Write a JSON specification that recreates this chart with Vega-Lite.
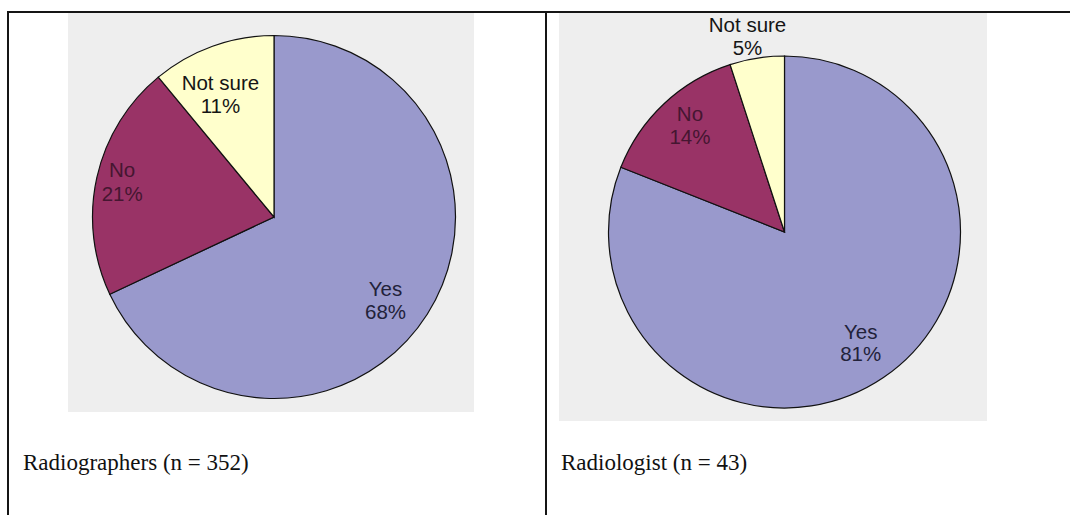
{
  "$schema": "https://vega.github.io/schema/vega-lite/v6.json",
  "padding": {"left": 7, "top": 11, "right": 0, "bottom": 0},
  "background": "#ffffff",
  "config": {"view": {"stroke": null}},
  "datasets": {
    "pies": [
      {"group": "Radiographers", "answer": "Yes", "share": 0.68, "order": 1},
      {"group": "Radiographers", "answer": "No", "share": 0.21, "order": 2},
      {"group": "Radiographers", "answer": "Not sure", "share": 0.11, "order": 3},
      {"group": "Radiologist", "answer": "Yes", "share": 0.81, "order": 1},
      {"group": "Radiologist", "answer": "No", "share": 0.14, "order": 2},
      {"group": "Radiologist", "answer": "Not sure", "share": 0.05, "order": 3}
    ],
    "blank": []
  },
  "spacing": 0,
  "bounds": "flush",
  "vconcat": [
    {
      "width": 1063, "height": 2,
      "view": {"fill": "#151515", "stroke": null},
      "data": {"name": "blank"},
      "mark": {"type": "point", "opacity": 0}
    },
    {
      "spacing": 0,
      "bounds": "flush",
      "hconcat": [
        {
          "width": 2, "height": 502,
          "view": {"fill": "#151515", "stroke": null},
          "data": {"name": "blank"},
          "mark": {"type": "point", "opacity": 0}
        },
        {
          "width": 59, "height": 399,
          "data": {"name": "blank"},
          "mark": {"type": "point", "opacity": 0}
        },
        {
          "width": 406, "height": 399,
          "view": {"fill": "#eeeeee", "stroke": null},
          "data": {"name": "pies"},
          "transform": [{"filter": "datum.group == 'Radiographers'"}],
          "title": {"text": "Radiographers (n = 352)", "orient": "bottom", "anchor": "start", "frame": "group", "dx": -45, "offset": 58, "baseline": "alphabetic", "font": "Liberation Serif", "fontSize": 23, "fontWeight": "normal", "color": "#111111"},
          "encoding": {
            "theta": {"field": "share", "type": "quantitative", "stack": true},
            "order": {"field": "order", "type": "quantitative"}
          },
          "layer": [
            {
              "mark": {"type": "arc", "radius": 181.5, "stroke": "#111111", "strokeWidth": 1.2, "xOffset": 3, "yOffset": 4.5},
              "encoding": {
                "color": {"field": "answer", "type": "nominal", "scale": {"domain": ["Yes", "No", "Not sure"], "range": ["#9999cc", "#993366", "#ffffcc"]}, "legend": null}
              }
            },
            {
              "mark": {"type": "text", "font": "Liberation Sans", "fontSize": 20.5, "baseline": "middle", "align": "center", "xOffset": 3, "yOffset": 4.5, "dy": -11.75,
                "radius": {"expr": "datum.answer == 'Yes' ? 139.8 : datum.answer == 'No' ? 155.6 : 132.8"},
                "thetaOffset": {"expr": "datum.answer == 'Yes' ? 0.082 : datum.answer == 'No' ? 0 : -0.070"}},
              "encoding": {
                "text": {"field": "answer", "type": "nominal"},
                "fill": {"field": "answer", "type": "nominal", "scale": {"domain": ["Yes", "No", "Not sure"], "range": ["#22223a", "#451631", "#151515"]}, "legend": null}
              }
            },
            {
              "mark": {"type": "text", "font": "Liberation Sans", "fontSize": 20.5, "baseline": "middle", "align": "center", "xOffset": 3, "yOffset": 4.5, "dy": 11.75,
                "radius": {"expr": "datum.answer == 'Yes' ? 139.8 : datum.answer == 'No' ? 155.6 : 132.8"},
                "thetaOffset": {"expr": "datum.answer == 'Yes' ? 0.082 : datum.answer == 'No' ? 0 : -0.070"}},
              "encoding": {
                "text": {"field": "share", "type": "quantitative", "format": ".0%"},
                "fill": {"field": "answer", "type": "nominal", "scale": {"domain": ["Yes", "No", "Not sure"], "range": ["#22223a", "#451631", "#151515"]}, "legend": null}
              }
            }
          ]
        },
        {
          "width": 71, "height": 399,
          "data": {"name": "blank"},
          "mark": {"type": "point", "opacity": 0}
        },
        {
          "width": 2, "height": 502,
          "view": {"fill": "#151515", "stroke": null},
          "data": {"name": "blank"},
          "mark": {"type": "point", "opacity": 0}
        },
        {
          "width": 12, "height": 399,
          "data": {"name": "blank"},
          "mark": {"type": "point", "opacity": 0}
        },
        {
          "width": 428, "height": 408,
          "view": {"fill": "#eeeeee", "stroke": null},
          "data": {"name": "pies"},
          "transform": [{"filter": "datum.group == 'Radiologist'"}],
          "title": {"text": "Radiologist (n = 43)", "orient": "bottom", "anchor": "start", "frame": "group", "dx": 2, "offset": 49, "baseline": "alphabetic", "font": "Liberation Serif", "fontSize": 23, "fontWeight": "normal", "color": "#111111"},
          "encoding": {
            "theta": {"field": "share", "type": "quantitative", "stack": true},
            "order": {"field": "order", "type": "quantitative"}
          },
          "layer": [
            {
              "mark": {"type": "arc", "radius": 176, "stroke": "#111111", "strokeWidth": 1.2, "xOffset": 11.5, "yOffset": 15},
              "encoding": {
                "color": {"field": "answer", "type": "nominal", "scale": {"domain": ["Yes", "No", "Not sure"], "range": ["#9999cc", "#993366", "#ffffcc"]}, "legend": null}
              }
            },
            {
              "mark": {"type": "text", "font": "Liberation Sans", "fontSize": 20.5, "baseline": "middle", "align": "center", "xOffset": 11.5, "yOffset": 15, "dy": -11.25,
                "radius": {"expr": "datum.answer == 'Yes' ? 135.5 : datum.answer == 'No' ? 141.8 : 197.8"},
                "thetaOffset": {"expr": "datum.answer == 'Yes' ? 0 : datum.answer == 'No' ? 0.024 : -0.031"}},
              "encoding": {
                "text": {"field": "answer", "type": "nominal"},
                "fill": {"field": "answer", "type": "nominal", "scale": {"domain": ["Yes", "No", "Not sure"], "range": ["#22223a", "#451631", "#151515"]}, "legend": null}
              }
            },
            {
              "mark": {"type": "text", "font": "Liberation Sans", "fontSize": 20.5, "baseline": "middle", "align": "center", "xOffset": 11.5, "yOffset": 15, "dy": 11.25,
                "radius": {"expr": "datum.answer == 'Yes' ? 135.5 : datum.answer == 'No' ? 141.8 : 197.8"},
                "thetaOffset": {"expr": "datum.answer == 'Yes' ? 0 : datum.answer == 'No' ? 0.024 : -0.031"}},
              "encoding": {
                "text": {"field": "share", "type": "quantitative", "format": ".0%"},
                "fill": {"field": "answer", "type": "nominal", "scale": {"domain": ["Yes", "No", "Not sure"], "range": ["#22223a", "#451631", "#151515"]}, "legend": null}
              }
            }
          ]
        }
      ]
    }
  ]
}
